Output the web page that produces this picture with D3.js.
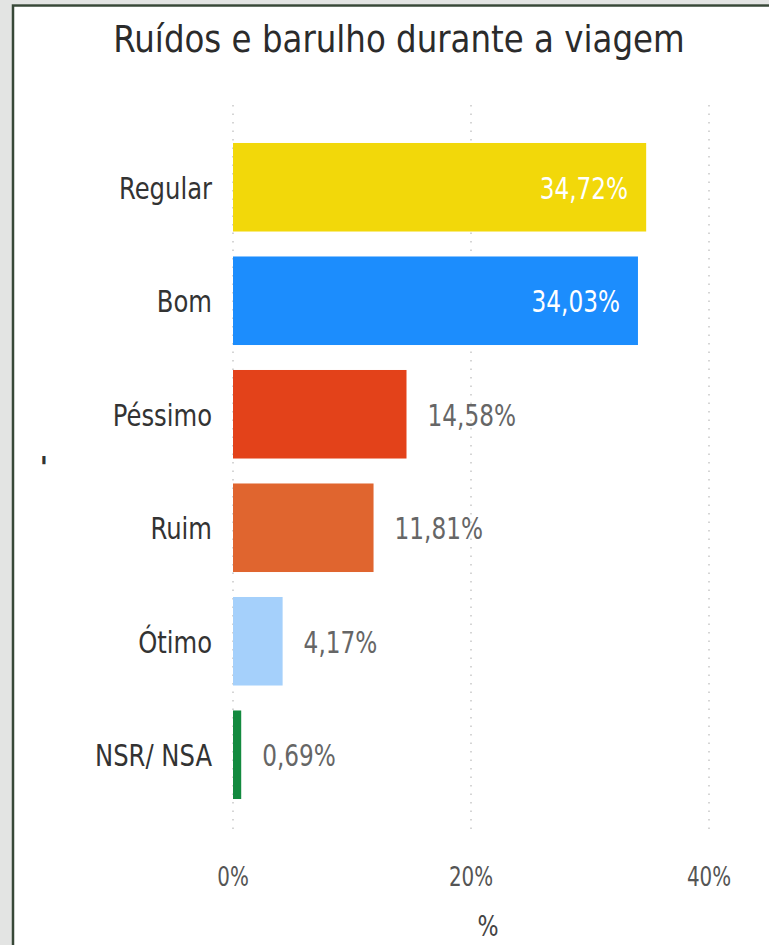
<!DOCTYPE html>
<html>
<head>
<meta charset="utf-8">
<script src="https://cdn.jsdelivr.net/npm/d3@7"></script>
<style>
  html, body { margin: 0; padding: 0; background: #e3e4e3; }
  svg { display: block; }
</style>
</head>
<body>
<script>
// categories and values
var categories = ['Regular', 'Bom', 'Péssimo', 'Ruim', 'Ótimo', 'NSR/ NSA'];
var values = [34.72, 34.03, 14.58, 11.81, 4.17, 0.69];
var barColors = ['#F2D80A', '#1C8DFD', '#E3421A', '#E0652F', '#A5D0FB', '#138A3F'];
var tickValues = [0, 20, 40];

var width = 769, height = 945;
var fontFamily = "'DejaVu Sans Condensed', 'Open Sans', sans-serif";

var svg = d3.select("body").append("svg")
    .attr("width", width)
    .attr("height", height);

// visual frame
svg.append("rect").attr("x", 12).attr("y", 4).attr("width", width - 12).attr("height", height - 4)
    .style("fill", "#ffffff");
svg.append("path").attr("d", "M13," + height + "V5.5H" + width)
    .style("fill", "none").style("stroke", "#384838").style("stroke-width", 2.5);

var x = d3.scaleLinear()
    .domain([0, 40])
    .range([233, 709]);

var y = d3.scaleBand()
    .domain(categories)
    .range([130.5, 811.5])
    .paddingInner(0.22)
    .paddingOuter(0.11);

// text squeezed horizontally, like the narrow font of the original
function squeeze(sel, sx, px, py) {
    sel.attr("x", 0).attr("y", 0)
        .attr("transform", function(d, i) {
            return "translate(" + px(d, i) + "," + py(d, i) + ") scale(" + sx + ",1)";
        });
}

// gridlines
svg.append("g").selectAll("line").data(tickValues).enter().append("line")
    .attr("x1", function(d) { return x(d); })
    .attr("x2", function(d) { return x(d); })
    .attr("y1", 105)
    .attr("y2", 832)
    .style("stroke", "#c8c8c8")
    .style("stroke-width", 1.5)
    .style("stroke-dasharray", "1.5,7");

// bars
svg.append("g").selectAll("rect").data(values).enter().append("rect")
    .attr("x", x(0))
    .attr("y", function(d, i) { return y(categories[i]); })
    .attr("width", function(d) { return x(d) - x(0); })
    .attr("height", y.bandwidth())
    .style("fill", function(d, i) { return barColors[i]; });

function fmt(v) {
    return v.toFixed(2).replace('.', ',') + '%';
}

// value labels (inside for the long bars, outside for the rest)
svg.append("g").selectAll("text").data(values).enter().append("text")
    .call(squeeze, 0.86,
        function(d) { return d > 30 ? x(d) - 18 : x(d) + 21; },
        function(d, i) { return y(categories[i]) + y.bandwidth() / 2 + 1; })
    .attr("dy", "0.35em")
    .attr("text-anchor", function(d) { return d > 30 ? "end" : "start"; })
    .style("font-family", fontFamily)
    .style("font-size", "30px")
    .style("fill", function(d) { return d > 30 ? "#ffffff" : "#666666"; })
    .text(fmt);

// category labels
svg.append("g").selectAll("text").data(categories).enter().append("text")
    .call(squeeze, 0.9,
        function() { return 212; },
        function(d) { return y(d) + y.bandwidth() / 2 + 1; })
    .attr("dy", "0.35em")
    .attr("text-anchor", "end")
    .style("font-family", fontFamily)
    .style("font-size", "30px")
    .style("fill", "#333333")
    .text(function(d) { return d; });

// x axis tick labels
svg.append("g").selectAll("text").data(tickValues).enter().append("text")
    .call(squeeze, 0.85,
        function(d) { return x(d); },
        function() { return 886; })
    .attr("text-anchor", "middle")
    .style("font-family", fontFamily)
    .style("font-size", "26px")
    .style("fill", "#555555")
    .text(function(d) { return d + '%'; });

// axis title
svg.append("text")
    .call(squeeze, 0.85,
        function() { return x(20) + 17; },
        function() { return 936; })
    .attr("text-anchor", "middle")
    .style("font-family", fontFamily)
    .style("font-size", "29px")
    .style("fill", "#444444")
    .text("%");

// y axis title (just a tick mark in the original)
svg.append("text")
    .attr("x", 44)
    .attr("y", 478)
    .attr("text-anchor", "middle")
    .style("font-family", fontFamily)
    .style("font-size", "30px")
    .style("font-weight", "bold")
    .style("fill", "#333333")
    .text("'");

// chart title
svg.append("text")
    .call(squeeze, 0.95,
        function() { return 399; },
        function() { return 52; })
    .attr("text-anchor", "middle")
    .style("font-family", fontFamily)
    .style("font-size", "38px")
    .style("fill", "#2b2b2b")
    .text("Ruídos e barulho durante a viagem");
</script>
</body>
</html>
